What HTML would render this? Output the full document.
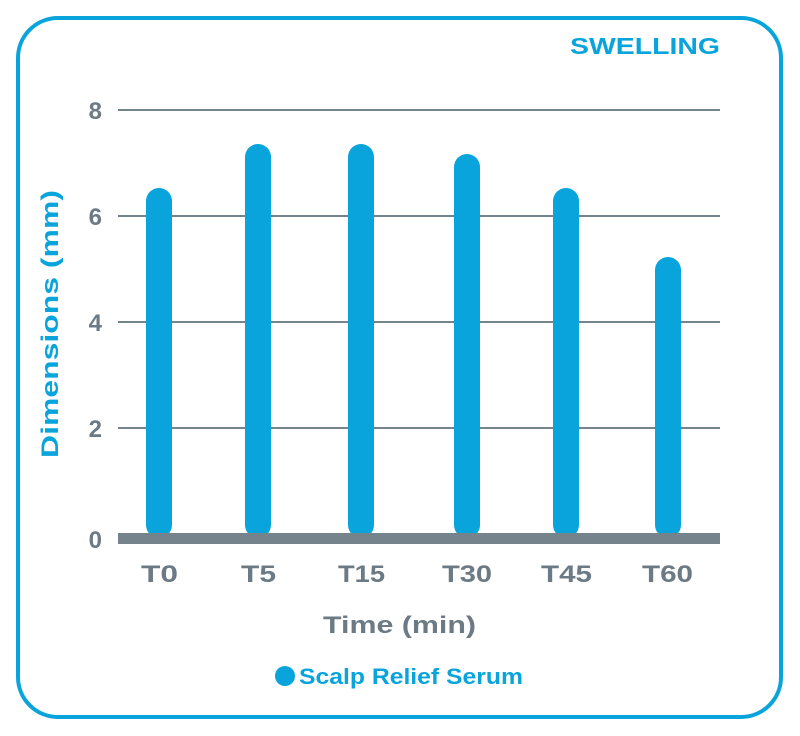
<!DOCTYPE html>
<html><head><meta charset="utf-8"><style>
html,body{margin:0;padding:0;background:#fff;}
</style></head><body>
<svg width="800" height="736" viewBox="0 0 800 736" xmlns="http://www.w3.org/2000/svg" style="display:block">
<rect x="18" y="18" width="763" height="699" rx="40" ry="40" fill="#fff" stroke="#0aa4dc" stroke-width="4"/>
<text x="570" y="54" textLength="150" lengthAdjust="spacingAndGlyphs" font-family="Liberation Sans, sans-serif" font-weight="bold" font-size="23" fill="#0aa4dc">SWELLING</text>
<g stroke="#75838d" stroke-width="2">
<line x1="118" y1="110" x2="720" y2="110"/>
<line x1="118" y1="216" x2="720" y2="216"/>
<line x1="118" y1="322" x2="720" y2="322"/>
<line x1="118" y1="428" x2="720" y2="428"/>
</g>
<g fill="#0aa4dc">
<rect x="146" y="188" width="26" height="350" rx="13"/>
<rect x="245" y="144" width="26" height="394" rx="13"/>
<rect x="348" y="144" width="26" height="394" rx="13"/>
<rect x="454" y="154" width="26" height="384" rx="13"/>
<rect x="553" y="188" width="26" height="350" rx="13"/>
<rect x="655" y="257" width="26" height="281" rx="13"/>
</g>
<rect x="118" y="533" width="602" height="11" fill="#75838d"/>
<g font-family="Liberation Sans, sans-serif" font-weight="bold" font-size="24" fill="#6b7a84">
<text x="102" y="119" text-anchor="end">8</text>
<text x="102" y="225" text-anchor="end">6</text>
<text x="102" y="331" text-anchor="end">4</text>
<text x="102" y="437" text-anchor="end">2</text>
<text x="102" y="548" text-anchor="end">0</text>
<text x="141" y="582" textLength="37" lengthAdjust="spacingAndGlyphs">T0</text>
<text x="241" y="582" textLength="35" lengthAdjust="spacingAndGlyphs">T5</text>
<text x="338" y="582" textLength="47" lengthAdjust="spacingAndGlyphs">T15</text>
<text x="442" y="582" textLength="50" lengthAdjust="spacingAndGlyphs">T30</text>
<text x="541" y="582" textLength="51" lengthAdjust="spacingAndGlyphs">T45</text>
<text x="642" y="582" textLength="51" lengthAdjust="spacingAndGlyphs">T60</text>
<text x="323" y="633" textLength="153" lengthAdjust="spacingAndGlyphs">Time (min)</text>
</g>
<text transform="translate(58,458) rotate(-90)" textLength="268" lengthAdjust="spacingAndGlyphs" font-family="Liberation Sans, sans-serif" font-weight="bold" font-size="24" fill="#0aa4dc">Dimensions (mm)</text>
<circle cx="285" cy="676" r="10" fill="#0aa4dc"/>
<text x="299" y="684" textLength="224" lengthAdjust="spacingAndGlyphs" font-family="Liberation Sans, sans-serif" font-weight="bold" font-size="22" fill="#0aa4dc">Scalp Relief Serum</text>
</svg>
</body></html>
